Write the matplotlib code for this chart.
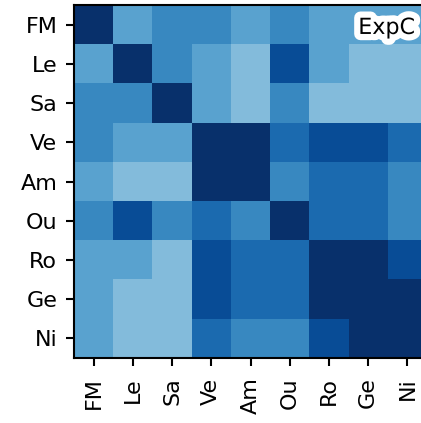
import numpy as np
import matplotlib
matplotlib.use("Agg")
import matplotlib.pyplot as plt
import matplotlib.patheffects as pe

labels = ["FM", "Le", "Sa", "Ve", "Am", "Ou", "Ro", "Ge", "Ni"]

# similarity levels (1 = lightest shade, 6 = darkest)
levels = np.array([
    [6, 2, 3, 3, 2, 3, 2, 2, 2],
    [2, 6, 3, 2, 1, 5, 2, 1, 1],
    [3, 3, 6, 2, 1, 3, 1, 1, 1],
    [3, 2, 2, 6, 6, 4, 5, 5, 4],
    [2, 1, 1, 6, 6, 3, 4, 4, 3],
    [3, 5, 3, 4, 3, 6, 4, 4, 3],
    [2, 2, 1, 5, 4, 4, 6, 6, 5],
    [2, 1, 1, 5, 4, 4, 6, 6, 6],
    [2, 1, 1, 4, 3, 3, 5, 6, 6],
])
panel_label = "ExpC"

fig = plt.figure(figsize=(4.21, 4.23), dpi=100)
ax = fig.add_axes([74 / 421, 65 / 423, (427 - 74) / 421, (358 - 5) / 423])

ax.imshow(levels, cmap="Blues", vmin=-2.93, vmax=6, aspect="auto",
          interpolation="nearest")

ax.set_xticks(range(len(labels)))
ax.set_yticks(range(len(labels)))
ax.set_xticklabels(labels, rotation=90, fontsize=16)
ax.set_yticklabels(labels, fontsize=16)
ax.tick_params(length=6, width=1.5)
ax.tick_params(axis="x", pad=8)
ax.tick_params(axis="y", pad=6)
for s in ax.spines.values():
    s.set_linewidth(1.5)

ax.text(0.966, 0.918, panel_label, transform=ax.transAxes, ha="right",
        va="baseline", fontsize=16,
        path_effects=[pe.withStroke(linewidth=9, foreground="white")])

fig.savefig("out.png", dpi=100)
